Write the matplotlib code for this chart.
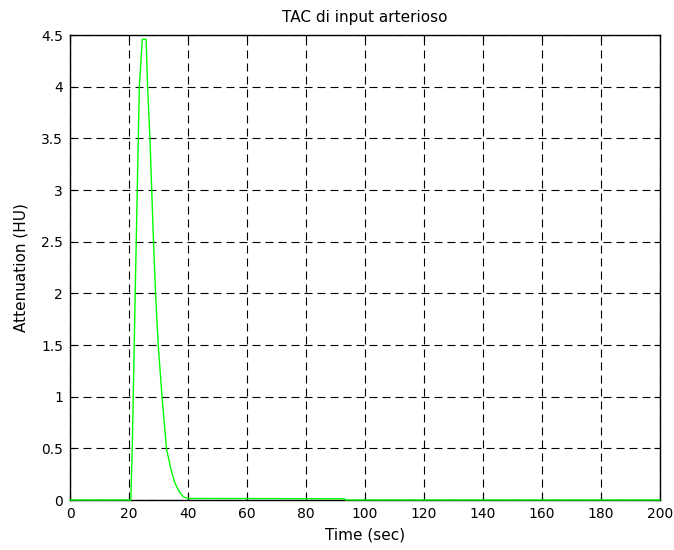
import matplotlib
matplotlib.use("Agg")
import matplotlib.pyplot as plt
import numpy as np

plt.rcParams['font.family'] = ['DejaVu Sans']

time_s = [0, 20.6, 21.1, 22.1, 23.5, 24.5, 25.8, 26.3, 27.1, 27.7, 28.3, 29.0, 29.9,
          31.2, 32.7, 34.2, 35.5, 37.0, 38.5, 40.0, 93.0, 93.5, 200]
attenuation = [0, 0, 0.5, 2.0, 4.0, 4.46, 4.46, 4.0, 3.5, 3.0, 2.5, 2.0, 1.5,
               1.0, 0.5, 0.3, 0.17, 0.08, 0.03, 0.015, 0.012, 0.0, 0.0]
x_ticks = list(range(0, 201, 20))
y_ticks = [0, 0.5, 1, 1.5, 2, 2.5, 3, 3.5, 4, 4.5]
y_tick_labels = ['0', '0.5', '1', '1.5', '2', '2.5', '3', '3.5', '4', '4.5']

fig = plt.figure(figsize=(6.74, 5.5), dpi=100)
ax = fig.add_axes([0.1039, 0.0909, 0.979 - 0.1039, 0.936 - 0.0909])
ax.plot(time_s, attenuation, color='#00ff00', linewidth=1.0, zorder=3, clip_on=False)
ax.set_xlim(0, 200)
ax.set_ylim(0, 4.5)
ax.set_xticks(x_ticks)
ax.set_yticks(y_ticks)
ax.set_yticklabels(y_tick_labels)
ax.grid(True, color='black', linestyle=(0, (7.2, 4.5)), linewidth=0.8)
ax.tick_params(direction='in', top=True, right=True, labelsize=10, length=4, pad=5)
for s in ax.spines.values():
    s.set_linewidth(1.0)
ax.set_xlabel('Time (sec)', fontsize=11, labelpad=5)
ax.set_ylabel('Attenuation (HU)', fontsize=11, labelpad=9)
ax.set_title('TAC di input arterioso', fontsize=11, pad=9.4)
fig.savefig('out.png', dpi=100)
